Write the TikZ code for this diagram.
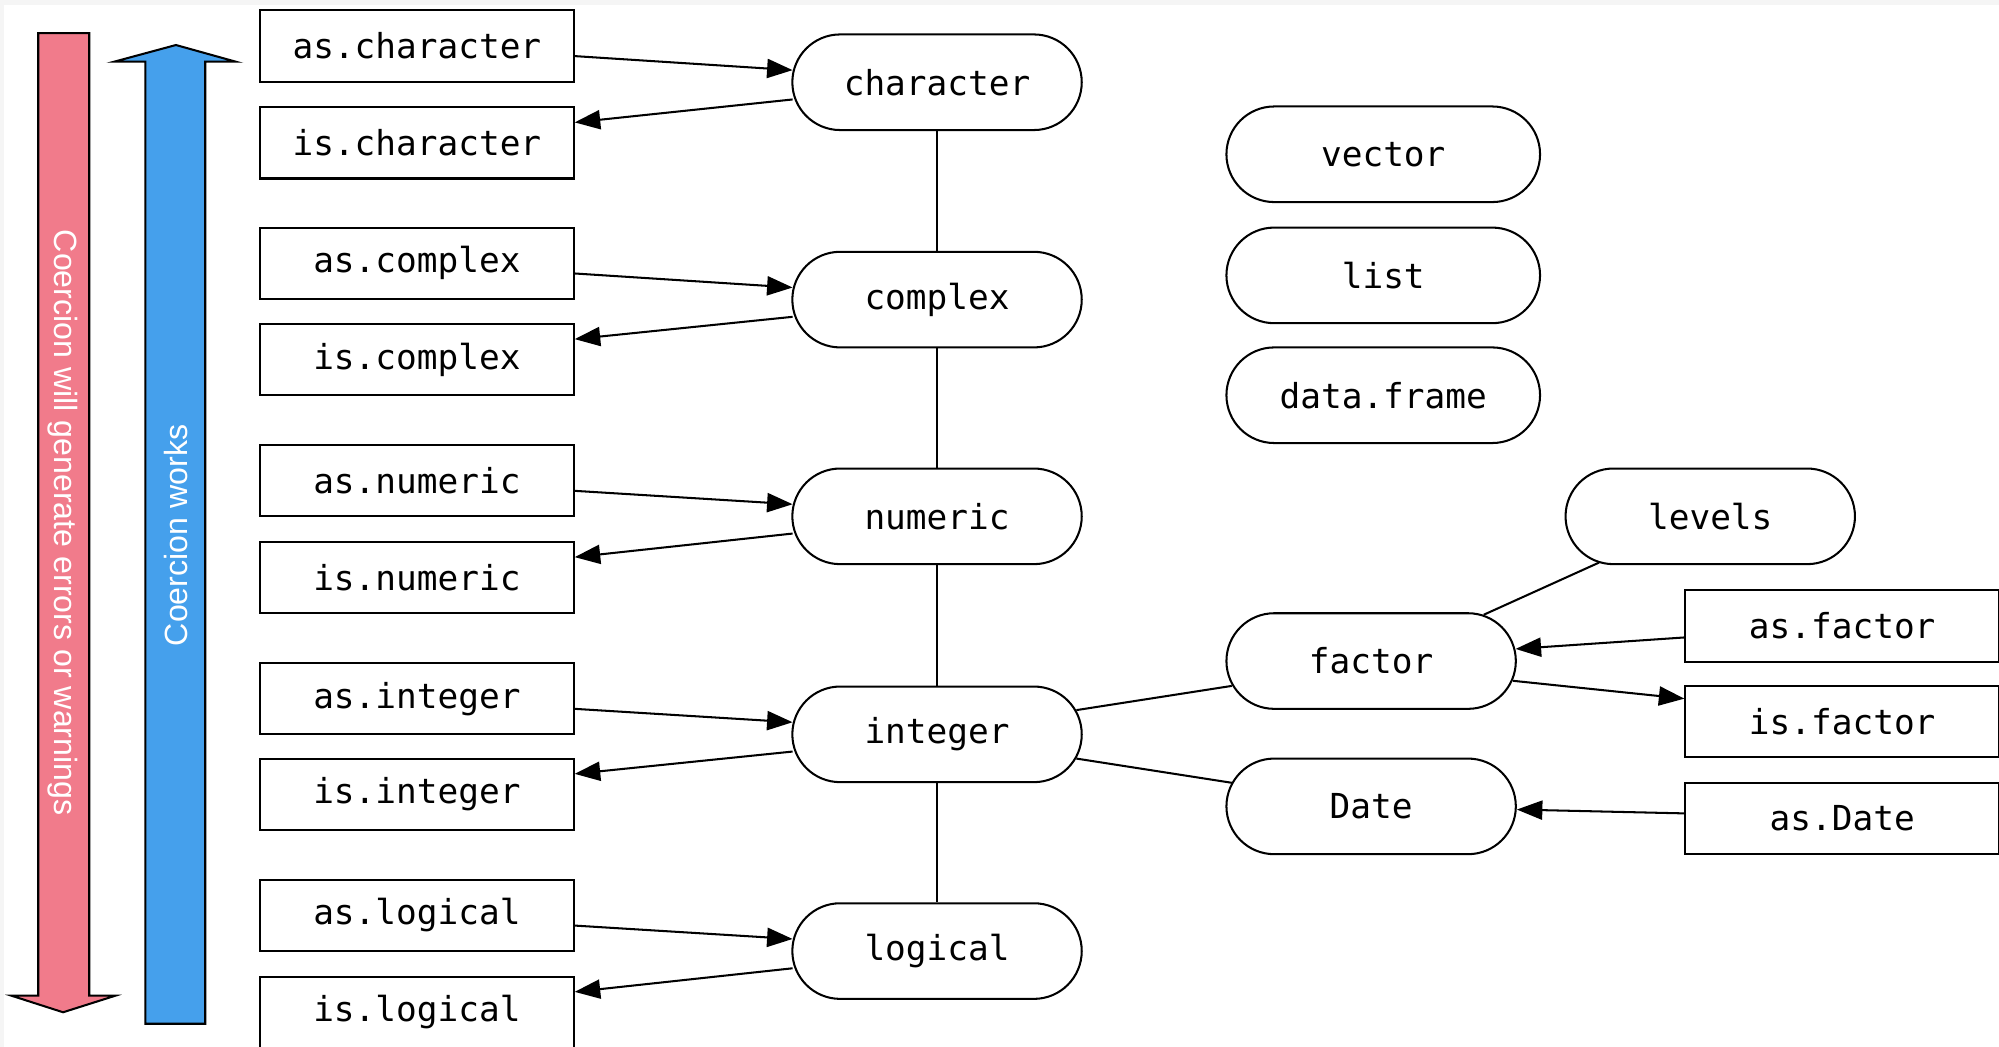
\documentclass[tikz,border=0pt]{standalone}
\usepackage{fontspec}
\setmainfont{Liberation Sans}
\setmonofont{DejaVu Sans Mono}
\usetikzlibrary{arrows.meta,calc}
\definecolor{pinkarrow}{RGB}{241,123,139}
\definecolor{bluearrow}{RGB}{69,160,236}
\begin{document}
\begin{tikzpicture}[x=0.5pt,y=-0.5pt,
  box/.style={draw,line width=0.8pt,minimum width=123pt,minimum height=28pt,inner sep=0pt,fill=white,
    font=\ttfamily\fontsize{13.5}{16}\selectfont},
  pill/.style={draw,line width=0.8pt,rounded corners=18.75pt,minimum width=113.5pt,minimum height=37.5pt,inner sep=0pt,fill=white,
    font=\ttfamily\fontsize{13.5}{16}\selectfont},
  widepill/.style={pill,minimum width=123pt},
  conn/.style={line width=0.8pt},
  arr/.style={conn,-{Triangle[length=10pt,width=7.5pt]}},
  bigarrow/.style={line width=0.8pt,draw=black},
  arrtext/.style={white,font=\fontsize{12.6}{15}\selectfont,inner sep=0pt}
]
\useasboundingbox (0,0) rectangle (1568,821);
\clip (0,0) rectangle (1568,821);
\fill[black!4] (0,0) rectangle (1568,821);
\fill[white] (3,3.7) rectangle (1570,823);

% big arrows
\filldraw[bigarrow,fill=pinkarrow] (30,26) -- (70,26) -- (70,781) -- (90.5,781) -- (49.5,794) -- (9,781) -- (30,781) -- cycle;
\filldraw[bigarrow,fill=bluearrow] (114,803) -- (161,803) -- (161,48.4) -- (185,48.4) -- (138,35.3) -- (89.5,48.4) -- (114,48.4) -- cycle;
\node[arrtext,rotate=-90] (redtxt) at (49,410) {Coercion will generate errors or warnings};
\node[arrtext,rotate=90] (bluetxt) at (138,420) {Coercion works};

% left boxes
\node[box] (asC) at (327,36) {as.character};
\node[box] (isC) at (327,112) {is.character};
\node[box] (asX) at (327,206.5) {as.complex};
\node[box] (isX) at (327,282) {is.complex};
\node[box] (asN) at (327,377) {as.numeric};
\node[box] (isN) at (327,453) {is.numeric};
\node[box] (asI) at (327,548) {as.integer};
\node[box] (isI) at (327,623) {is.integer};
\node[box] (asL) at (327,718) {as.logical};
\node[box] (isL) at (327,794) {is.logical};

% central pills
\node[pill] (char) at (735,64.5) {character};
\node[pill] (cplx) at (735,235) {complex};
\node[pill] (num) at (735,405) {numeric};
\node[pill] (int) at (735,576) {integer};
\node[pill] (lgl) at (735,746) {logical};

% right pills
\node[widepill] (vec) at (1085,121) {vector};
\node[widepill] (lst) at (1085,216) {list};
\node[widepill] (df) at (1085,310) {data.frame};
\node[pill] (lev) at (1341.5,405) {levels};
\node[pill] (fac) at (1075.5,518.5) {factor};
\node[pill] (dat) at (1075.5,632.5) {Date};

% right boxes
\node[box] (asF) at (1445,491) {as.factor};
\node[box] (isF) at (1445,566) {is.factor};
\node[box] (asD) at (1445,642) {as.Date};

% chain
\draw[conn] (char) -- (cplx);
\draw[conn] (cplx) -- (num);
\draw[conn] (num) -- (int);
\draw[conn] (int) -- (lgl);

% as/is arrows
\foreach \a/\i/\n in {asC/isC/char, asX/isX/cplx, asN/isN/num, asI/isI/int, asL/isL/lgl}{
  \draw[arr] ($(\a.east)+(0,8)$) -- ($(\n.west)+(1,-9.5)$);
  \draw[arr] ($(\n.west)+(1,13.5)$) -- ($(\i.east)+(0,-16)$);
}

% integer branches
\draw[conn] ($(int.east)+(-5,-19)$) -- ($(fac.west)+(5,19.5)$);
\draw[conn] ($(int.east)+(-5,19)$) -- ($(dat.west)+(5,-18.5)$);
\draw[conn] ($(fac.north east)+(-26,2)$) -- ($(lev.south west)+(27,-2)$);
\draw[arr] ($(asF.west)+(0,9)$) -- ($(fac.east)+(-1,-9.5)$);
\draw[arr] ($(fac.east)+(-3,15.5)$) -- ($(isF.west)+(0,-18)$);
\draw[arr] ($(asD.west)+(0,-4)$) -- ($(dat.east)+(0,2.5)$);
\end{tikzpicture}
\end{document}
